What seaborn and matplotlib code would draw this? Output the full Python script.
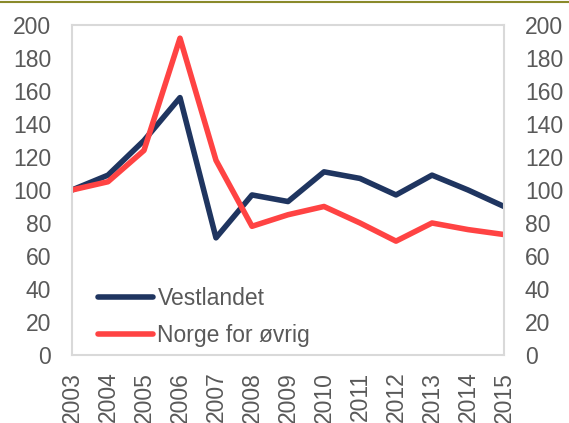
import matplotlib.pyplot as plt
import numpy as np
import pandas as pd
import seaborn as sns
from matplotlib.lines import Line2D

sns.set_style("white")
plt.rcParams["font.family"] = ["Liberation Sans", "DejaVu Sans"]

years = list(range(2003, 2016))
vestlandet = [100, 109, 130, 156, 71, 97, 93, 111, 107, 97, 109, 100, 90]
norge_ovrig = [100, 105, 124, 192, 118, 78, 85, 90, 80, 69, 80, 76, 73]

df = pd.DataFrame({
    "year": years * 2,
    "value": vestlandet + norge_ovrig,
    "serie": ["Vestlandet"] * len(years) + ["Norge for øvrig"] * len(years),
})

grey = "#595959"
fs = 16.5
fig = plt.figure(figsize=(5.69, 4.23), dpi=100)
ax = fig.add_axes([0.1265, 0.1608, 0.7593, 0.7801])

sns.lineplot(data=df, x="year", y="value", hue="serie",
             palette={"Vestlandet": "#1f3560", "Norge for øvrig": "#ff4343"},
             linewidth=4, ax=ax)

ax.set_xlim(2003, 2015)
ax.set_ylim(0, 200)
ax.set_xticks(years)
ax.set_xticklabels([str(y) for y in years], rotation=90)
ax.set_yticks(np.arange(0, 201, 20))
ax.set_xlabel("")
ax.set_ylabel("")
ax.tick_params(axis="y", labelsize=fs, colors=grey, length=0, pad=15)
ax.tick_params(axis="x", labelsize=fs, colors=grey, length=0, pad=12)
for s in ax.spines.values():
    s.set_color("#d9d9d9")
    s.set_linewidth(1.5)

ax2 = ax.twinx()
ax2.set_ylim(0, 200)
ax2.set_yticks(np.arange(0, 201, 20))
ax2.tick_params(axis="y", labelsize=fs, colors=grey, length=0, pad=15)
for s in ax2.spines.values():
    s.set_visible(False)

leg = ax.legend(loc="lower left", bbox_to_anchor=(0.06, 0.025), frameon=False,
                fontsize=fs, handlelength=2.4, handletextpad=0.2, labelspacing=0.6,
                borderpad=0, borderaxespad=0)
for t in leg.get_texts():
    t.set_color(grey)
for h in leg.get_lines():
    h.set_linewidth(4)

fig.add_artist(Line2D([0, 1], [0.995, 0.995], color="#8a8a2b", linewidth=1.5,
                      transform=fig.transFigure))

fig.savefig("out.png", dpi=100)
